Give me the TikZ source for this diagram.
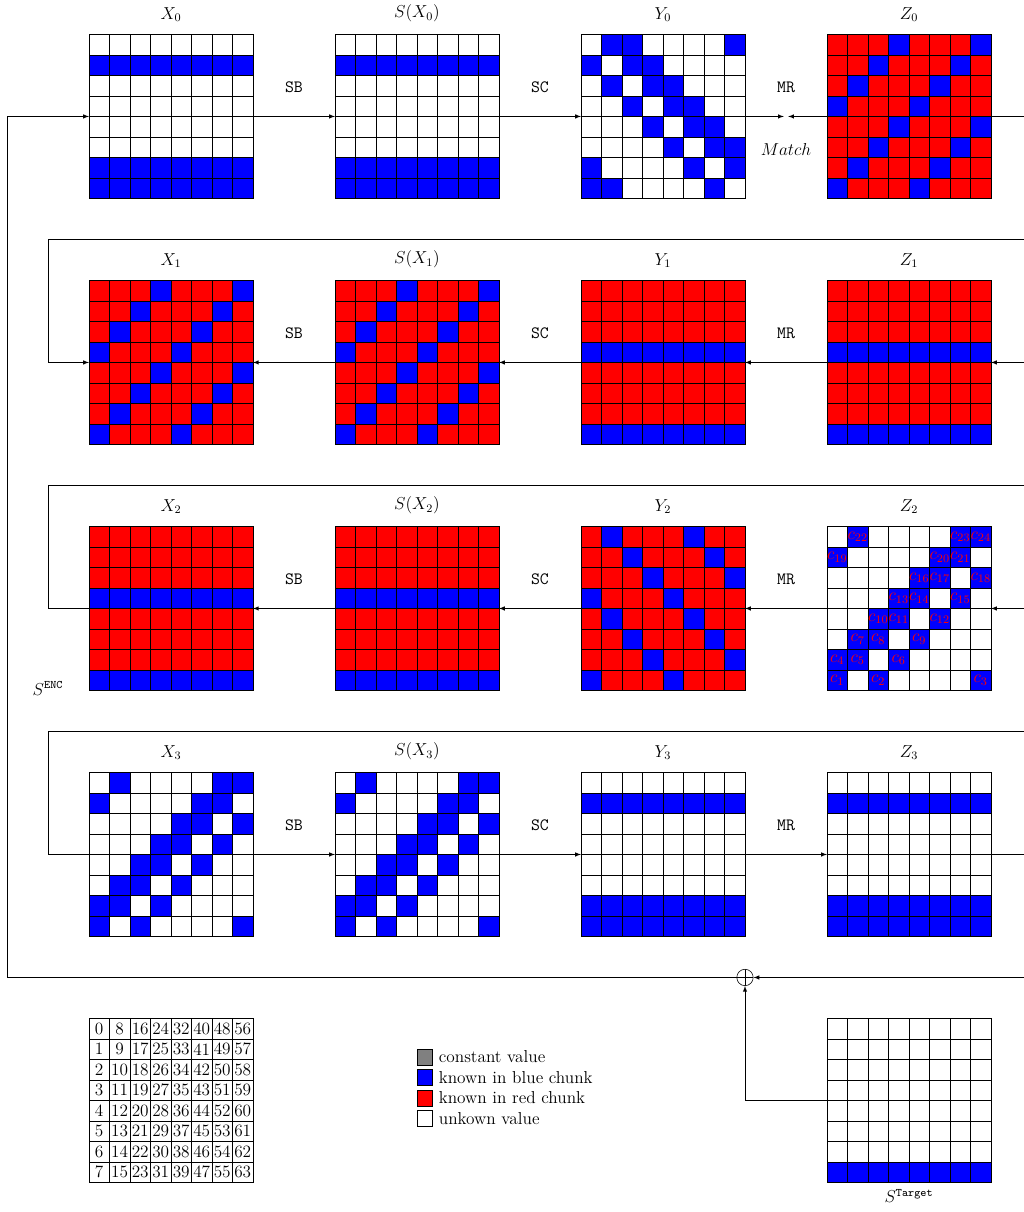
\documentclass[12pt,tikz,border=0pt]{standalone}
\usepackage{amsmath,amssymb}
\usepackage{xcolor}
\usepackage{tikz}
\usetikzlibrary{arrows, positioning}

% fill the 8x8 cells of a board: #2 is 1 for a blue cell, #3 is the other colour
\newcommand{\fillboard}[3]{%
  \begin{scope}[shift={(#1.north west)}]
    \foreach \i in {0,...,7}
      \foreach \j in {0,...,7} {
        \pgfmathtruncatemacro{\known}{#2}
        \ifnum\known=1 \def\cellfill{blue}\else\def\cellfill{#3}\fi
        \draw[cell, fill=\cellfill] (0.5*\i,-0.5*\j) rectangle ++(0.5,-0.5);
      }
  \end{scope}}

\begin{document}
\begin{tikzpicture}[
        node distance=2cm,
        board/.style={rectangle, minimum size=4cm, inner sep=0pt, outer sep=0pt},
        cell/.style={draw=black, line width=0.4pt},
        oplabel/.style={font=\ttfamily},
        arrow/.style={->,>=latex},
        xorop/.style={circle, draw=black, minimum size=0.4cm, inner sep=0pt,
            path picture={\draw (path picture bounding box.north) -- (path picture bounding box.south)
                (path picture bounding box.west) -- (path picture bounding box.east);}},
        keybox/.style={rectangle, draw=black, minimum size=0.38cm, inner sep=0pt}
    ]
    \useasboundingbox (-4.17,2.84) rectangle (20.80,-26.72);

    % Round 0
    \node[board] (X0) {};
    \node[board, right=of X0] (SX0) {};
    \node[board, right=of SX0] (Y0) {};
    \node[board, right=of Y0] (Z0) {};

    % Round 1
    \node[board, below=of X0] (X1) {};
    \node[board, right=of X1] (SX1) {};
    \node[board, right=of SX1] (Y1) {};
    \node[board, right=of Y1] (Z1) {};

    % Round 2
    \node[board, below=of X1] (X2) {};
    \node[board, right=of X2] (SX2) {};
    \node[board, right=of SX2] (Y2) {};
    \node[board, right=of Y2] (Z2) {};

    % Round 3
    \node[board, below=of X2] (X3) {};
    \node[board, right=of X3] (SX3) {};
    \node[board, right=of SX3] (Y3) {};
    \node[board, right=of Y3] (Z3) {};

    % Index table and target
    \node[board, below=of X3] (index) {};
    \node[board, below=of Z3] (target) {};

    % Cells
    \fillboard{X0}{(\j==1)||(\j>5)}{white}
    \fillboard{SX0}{(\j==1)||(\j>5)}{white}
    \fillboard{Y0}{(mod(\j-\i+8,8)==1)||(mod(\j-\i+8,8)>5)}{white}
    \fillboard{Z0}{mod(\i+\j,4)==3}{red}
    \fillboard{X1}{mod(\i+\j,4)==3}{red}
    \fillboard{SX1}{mod(\i+\j,4)==3}{red}
    \fillboard{Y1}{mod(\j,4)==3}{red}
    \fillboard{Z1}{mod(\j,4)==3}{red}
    \fillboard{X2}{mod(\j,4)==3}{red}
    \fillboard{SX2}{mod(\j,4)==3}{red}
    \fillboard{Y2}{mod(\j-\i+8,4)==3}{red}
    \fillboard{Z2}{(mod(\i+\j,8)==1)||(mod(\i+\j,8)>5)}{white}
    \fillboard{X3}{(mod(\i+\j,8)==1)||(mod(\i+\j,8)>5)}{white}
    \fillboard{SX3}{(mod(\i+\j,8)==1)||(mod(\i+\j,8)>5)}{white}
    \fillboard{Y3}{(\j==1)||(\j>5)}{white}
    \fillboard{Z3}{(\j==1)||(\j>5)}{white}
    \fillboard{target}{\j==7}{white}
    \fillboard{index}{0}{white}

    % Board labels
    \foreach \b/\t in {X0/X_0, SX0/S(X_0), Y0/Y_0, Z0/Z_0,
                       X1/X_1, SX1/S(X_1), Y1/Y_1, Z1/Z_1,
                       X2/X_2, SX2/S(X_2), Y2/Y_2, Z2/Z_2,
                       X3/X_3, SX3/S(X_3), Y3/Y_3, Z3/Z_3}
        \node[above=0.16cm of \b] (l\b) {$\t$};
    \node[below=0.02cm of target] (ltarget) {$S^{\texttt{Target}}$};
    \node (enc) at ([xshift=-1cm, yshift=0.05cm]X2.south west) {$S^{\texttt{ENC}}$};

    % Chunk values in Z2
    \foreach \i/\j/\n in {0/7/1, 2/7/2, 7/7/3, 0/6/4, 1/6/5, 3/6/6,
                          1/5/7, 2/5/8, 4/5/9, 2/4/10, 3/4/11, 5/4/12,
                          3/3/13, 4/3/14, 6/3/15, 4/2/16, 5/2/17, 7/2/18,
                          0/1/19, 5/1/20, 6/1/21, 1/0/22, 6/0/23, 7/0/24}
        \node[text=red, inner sep=0pt] (c\n) at ([xshift=\i*0.5cm+0.25cm, yshift=-\j*0.5cm-0.25cm]Z2.north west) {$c_{\n}$};

    % Index numbers
    \foreach \i in {0,...,7}
        \foreach \j in {0,...,7} {
            \pgfmathtruncatemacro{\idx}{8*\i+\j}
            \node[inner sep=0pt] (idx\idx) at ([xshift=\i*0.5cm+0.25cm, yshift=-\j*0.5cm-0.25cm]index.north west) {\idx};
        }

    % Connections - round 0
    \coordinate[right=1cm of Y0] (match);
    \draw[arrow] (X0) -- node[oplabel, above=0.43cm] (sb0) {SB} (SX0);
    \draw[arrow] (SX0) -- node[oplabel, above=0.43cm] (sc0) {SC} (Y0);
    \draw[arrow, shorten >=1.5pt] (Y0) -- (match);
    \draw[arrow, shorten >=1.5pt] ([xshift=0.8cm]Z0.east) -- (match);
    \node[oplabel, above=0.43cm of match] (mr0) {MR};
    \node[below=0.5cm of match] (matchlabel) {$Match$};

    % Connections - round 1
    \draw[arrow] ([xshift=0.8cm]Z1.east) -- (Z1);
    \draw[arrow] (Z1) -- node[oplabel, above=0.43cm] (mr1) {MR} (Y1);
    \draw[arrow] (Y1) -- node[oplabel, above=0.43cm] (sc1) {SC} (SX1);
    \draw[arrow] (SX1) -- node[oplabel, above=0.43cm] (sb1) {SB} (X1);
    \draw[arrow] ([xshift=0.8cm, yshift=1cm]Z1.north east) -| ([xshift=-1cm]X1.west) -- (X1);

    % Connections - round 2
    \draw[arrow] ([xshift=0.8cm]Z2.east) -- (Z2);
    \draw[arrow] (Z2) -- node[oplabel, above=0.43cm] (mr2) {MR} (Y2);
    \draw[arrow] (Y2) -- node[oplabel, above=0.43cm] (sc2) {SC} (SX2);
    \draw[arrow] (SX2) -- node[oplabel, above=0.43cm] (sb2) {SB} (X2);
    \draw ([xshift=0.8cm, yshift=1cm]Z2.north east) -| ([xshift=-1cm]X2.west) -- (X2);

    % Connections - round 3
    \draw ([xshift=0.8cm, yshift=1cm]Z3.north east) -| ([xshift=-1cm]X3.west) -- (X3);
    \draw[arrow] (X3) -- node[oplabel, above=0.43cm] (sb3) {SB} (SX3);
    \draw[arrow] (SX3) -- node[oplabel, above=0.43cm] (sc3) {SC} (Y3);
    \draw[arrow] (Y3) -- node[oplabel, above=0.43cm] (mr3) {MR} (Z3);
    \draw (Z3) -- ([xshift=0.8cm]Z3.east);

    % Feed-forward with the target
    \node[xorop] (xor) at ([yshift=-1cm]Y3.south east) {};
    \draw[arrow] ([xshift=0.8cm, yshift=-1cm]Z3.south east) -- (xor);
    \draw[arrow] (target) -| (xor);
    \draw[arrow] (xor) -| ([xshift=-2cm]X0.west) -- (X0);

    % Legend
    \foreach \c/\t [count=\k] in {gray/constant value, blue/known in blue chunk,
                                  red/known in red chunk, white/unkown value} {
        \node[keybox, fill=\c] (key\k) at (6.19,-22.44-0.5*\k) {};
        \node[right=0.14cm of key\k, inner sep=0pt] (keytext\k) {\t};
    }

\end{tikzpicture}
\end{document}
